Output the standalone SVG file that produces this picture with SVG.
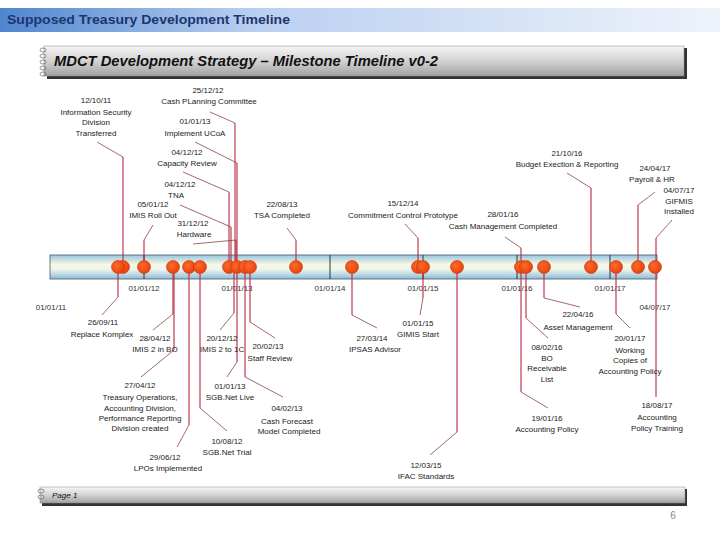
<svg xmlns="http://www.w3.org/2000/svg" width="720" height="540" viewBox="0 0 720 540">
<defs>
<linearGradient id="hdr" x1="0" y1="0" x2="1" y2="0">
<stop offset="0" stop-color="#4f86cf"/><stop offset="0.35" stop-color="#b9cff0"/><stop offset="1" stop-color="#eef3fb"/>
</linearGradient>
<linearGradient id="bar3d" x1="0" y1="0" x2="0" y2="1">
<stop offset="0" stop-color="#f6f6f6"/><stop offset="0.5" stop-color="#d2d2d2"/><stop offset="1" stop-color="#a2a2a2"/>
</linearGradient>
<linearGradient id="tl" x1="0" y1="0" x2="0" y2="1">
<stop offset="0" stop-color="#98c6e0"/><stop offset="0.4" stop-color="#f8f8e4"/><stop offset="0.6" stop-color="#eef5ec"/><stop offset="1" stop-color="#8cbdda"/>
</linearGradient>
<radialGradient id="dotg" cx="0.4" cy="0.4" r="0.7">
<stop offset="0" stop-color="#ff6a2a"/><stop offset="1" stop-color="#e23c08"/>
</radialGradient>
</defs>
<style>
.t{font-family:"Liberation Sans",Arial,sans-serif;font-size:8px;fill:#222;text-anchor:middle}
.ax{font-family:"Liberation Sans",Arial,sans-serif;font-size:8px;fill:#333;text-anchor:middle}
.dot{fill:url(#dotg);stroke:#c83206;stroke-width:0.6}
.v{stroke:#b8283e;stroke-width:1.1;fill:none}
.d{stroke:#7a2a30;stroke-width:0.7;fill:none}
.ring{fill:none;stroke:#777;stroke-width:0.8}
</style>
<rect width="720" height="540" fill="#fff"/>
<g id="header">
<rect x="0" y="8" width="720" height="24" fill="url(#hdr)"/>
<text x="7" y="24" font-family="Liberation Sans,Arial,sans-serif" font-size="13" font-weight="bold" fill="#1f3570" textLength="283" lengthAdjust="spacingAndGlyphs">Supposed Treasury Development Timeline</text>
</g>
<g id="titlebar">
<rect x="47" y="48" width="640" height="31" fill="#333"/>
<rect x="44" y="46" width="640" height="30" fill="url(#bar3d)" stroke="#888" stroke-width="0.5"/>
<ellipse class="ring" cx="43" cy="50" rx="3" ry="2"/><ellipse class="ring" cx="43" cy="56" rx="3" ry="2"/><ellipse class="ring" cx="43" cy="62" rx="3" ry="2"/><ellipse class="ring" cx="43" cy="68" rx="3" ry="2"/><ellipse class="ring" cx="43" cy="74" rx="3" ry="2"/>
<text x="54" y="66" font-family="Liberation Sans,Arial,sans-serif" font-size="15" font-weight="bold" font-style="italic" fill="#111" textLength="384" lengthAdjust="spacingAndGlyphs">MDCT Development Strategy – Milestone Timeline v0-2</text>
</g>
<g id="footer">
<rect x="42" y="489" width="645" height="17" fill="#333"/>
<rect x="40" y="487" width="645" height="16" fill="url(#bar3d)" stroke="#888" stroke-width="0.5"/>
<ellipse class="ring" cx="41" cy="491" rx="3" ry="2"/><ellipse class="ring" cx="41" cy="497" rx="3" ry="2"/>
<text x="52" y="498" font-family="Liberation Sans,Arial,sans-serif" font-size="8" font-style="italic" fill="#111">Page 1</text>
<text x="673" y="519" font-family="Liberation Sans,Arial,sans-serif" font-size="10" fill="#888" text-anchor="middle">6</text>
</g>
<g id="timeline">
<rect x="50" y="255" width="607" height="24" fill="url(#tl)" stroke="#4a5866" stroke-width="0.8"/>
<g stroke="#2a3440" stroke-width="1">
<line x1="144" y1="255" x2="144" y2="279"/><line x1="330" y1="255" x2="330" y2="279"/><line x1="423" y1="255" x2="423" y2="279"/><line x1="517" y1="255" x2="517" y2="279"/><line x1="610" y1="255" x2="610" y2="279"/>
</g>
<text class="ax" x="144" y="291">01/01/12</text><text class="ax" x="237" y="291">01/01/13</text><text class="ax" x="330" y="291">01/01/14</text><text class="ax" x="423" y="291">01/01/15</text><text class="ax" x="517" y="291">01/01/16</text><text class="ax" x="610" y="291">01/01/17</text>
<text class="ax" x="51" y="310">01/01/11</text><text class="ax" x="655" y="310">04/07/17</text>
</g>
<g id="connectors">
<path class="v" d="M123 267V157"/><path class="d" d="M123 157L97 142"/>
<path class="v" d="M144 267V240"/><path class="d" d="M144 240L153 225"/>
<path class="v" d="M235 267V123"/><path class="d" d="M235 123L210 112"/>
<path class="v" d="M237 267V163"/><path class="d" d="M237 163L195 142"/>
<path class="v" d="M229 267V192"/><path class="d" d="M229 192L183 172"/>
<path class="v" d="M231 267V227"/><path class="d" d="M231 227L180 205"/>
<path class="v" d="M236 267V240"/><path class="d" d="M236 240L193 244"/>
<path class="v" d="M296 267V240"/><path class="d" d="M296 240L287 228"/>
<path class="v" d="M418 267V238"/><path class="d" d="M418 238L405 224"/>
<path class="v" d="M521 267V248"/><path class="d" d="M521 248L505 237"/>
<path class="v" d="M591 267V188"/><path class="d" d="M591 188L567 173"/>
<path class="v" d="M638 267V205"/><path class="d" d="M638 205L655 192"/>
<path class="v" d="M656 267V238"/><path class="d" d="M656 238L672 220"/>
<path class="v" d="M118 267V297"/><path class="d" d="M118 297L102 315"/>
<path class="v" d="M173 267V314"/><path class="d" d="M173 314L153 330"/>
<path class="v" d="M174 267V350"/><path class="d" d="M174 350L141 377"/>
<path class="v" d="M189 267V425"/><path class="d" d="M189 425L177 447"/>
<path class="v" d="M200 267V408"/><path class="d" d="M200 408L227 431"/>
<path class="v" d="M234 267V313"/><path class="d" d="M234 313L220 330"/>
<path class="v" d="M237 267V362"/><path class="d" d="M237 362L227 377"/>
<path class="v" d="M245 267V377"/><path class="d" d="M245 377L283 397"/>
<path class="v" d="M250 267V322"/><path class="d" d="M250 322L275 338"/>
<path class="v" d="M352 267V315"/><path class="d" d="M352 315L377 328"/>
<path class="v" d="M423 267V298"/><path class="d" d="M423 298L420 315"/>
<path class="v" d="M457 267V432"/><path class="d" d="M457 432L430 455"/>
<path class="v" d="M526 267V318"/><path class="d" d="M526 318L548 338"/>
<path class="v" d="M521 267V392"/><path class="d" d="M521 392L548 408"/>
<path class="v" d="M544 267V298"/><path class="d" d="M544 298L580 307"/>
<path class="v" d="M616 267V314"/><path class="d" d="M616 314L630 328"/>
<path class="v" d="M656 267V397"/>
</g>
<g id="n-121011"><circle class="dot" cx="123" cy="267" r="6.5"/><text class="t" x="96" y="103">12/10/11</text><text class="t" x="96" y="115">Information Security</text><text class="t" x="96" y="125">Division</text><text class="t" x="96" y="136">Transferred</text></g>
<g id="n-260911"><circle class="dot" cx="118" cy="267" r="6.5"/><text class="t" x="103" y="325">26/09/11</text><text class="t" x="102" y="337">Replace Komplex</text></g>
<g id="n-050112"><circle class="dot" cx="144" cy="267" r="6.5"/><text class="t" x="153" y="207">05/01/12</text><text class="t" x="153" y="218">IMIS Roll Out</text></g>
<g id="n-280412"><circle class="dot" cx="173" cy="267" r="6.5"/><text class="t" x="155" y="341">28/04/12</text><text class="t" x="155" y="352">IMIS 2 in BO</text></g>
<g id="n-270412"><text class="t" x="140" y="388">27/04/12</text><text class="t" x="140" y="400">Treasury Operations,</text><text class="t" x="140" y="411">Accounting Division,</text><text class="t" x="140" y="421">Performance Reporting</text><text class="t" x="140" y="431">Division created</text></g>
<g id="n-290612"><circle class="dot" cx="189" cy="267" r="6.5"/><text class="t" x="165" y="460">29/06/12</text><text class="t" x="168" y="471">LPOs Implemented</text></g>
<g id="n-100812"><circle class="dot" cx="200" cy="267" r="6.5"/><text class="t" x="227" y="444">10/08/12</text><text class="t" x="227" y="455">SGB.Net Trial</text></g>
<g id="n-041212a"><circle class="dot" cx="229" cy="267" r="6.5"/><text class="t" x="187" y="155">04/12/12</text><text class="t" x="187" y="166">Capacity Review</text></g>
<g id="n-041212b"><text class="t" x="180" y="187">04/12/12</text><text class="t" x="176" y="198">TNA</text></g>
<g id="n-251212"><text class="t" x="208" y="93">25/12/12</text><text class="t" x="209" y="104">Cash PLanning Committee</text></g>
<g id="n-311212"><text class="t" x="193" y="226">31/12/12</text><text class="t" x="194" y="237">Hardware</text></g>
<g id="n-201212"><text class="t" x="222" y="341">20/12/12</text><text class="t" x="222" y="352">IMIS 2 to 1C</text></g>
<g id="n-010113a"><circle class="dot" cx="237" cy="267" r="6.5"/><text class="t" x="195" y="124">01/01/13</text><text class="t" x="195" y="136">Implement UCoA</text></g>
<g id="n-010113b"><text class="t" x="230" y="389">01/01/13</text><text class="t" x="230" y="400">SGB.Net Live</text></g>
<g id="n-040213"><circle class="dot" cx="245" cy="267" r="6.5"/><text class="t" x="287" y="411">04/02/13</text><text class="t" x="287" y="424">Cash Forecast</text><text class="t" x="289" y="434">Model Completed</text></g>
<g id="n-200213"><circle class="dot" cx="250" cy="267" r="6.5"/><text class="t" x="268" y="349">20/02/13</text><text class="t" x="270" y="361">Staff Review</text></g>
<g id="n-220813"><circle class="dot" cx="296" cy="267" r="6.5"/><text class="t" x="282" y="207">22/08/13</text><text class="t" x="282" y="218">TSA Completed</text></g>
<g id="n-270314"><circle class="dot" cx="352" cy="267" r="6.5"/><text class="t" x="372" y="341">27/03/14</text><text class="t" x="375" y="352">IPSAS Advisor</text></g>
<g id="n-151214"><circle class="dot" cx="418" cy="267" r="6.5"/><text class="t" x="403" y="206">15/12/14</text><text class="t" x="403" y="218">Commitment Control Prototype</text></g>
<g id="n-010115"><circle class="dot" cx="423" cy="267" r="6.5"/><text class="t" x="418" y="326">01/01/15</text><text class="t" x="418" y="337">GIMIS Start</text></g>
<g id="n-120315"><circle class="dot" cx="457" cy="267" r="6.5"/><text class="t" x="426" y="468">12/03/15</text><text class="t" x="426" y="479">IFAC Standards</text></g>
<g id="n-280116"><circle class="dot" cx="521" cy="267" r="6.5"/><text class="t" x="503" y="217">28/01/16</text><text class="t" x="503" y="229">Cash Management Completed</text></g>
<g id="n-190116"><text class="t" x="547" y="421">19/01/16</text><text class="t" x="547" y="432">Accounting Policy</text></g>
<g id="n-080216"><circle class="dot" cx="526" cy="267" r="6.5"/><text class="t" x="547" y="350">08/02/16</text><text class="t" x="547" y="361">BO</text><text class="t" x="547" y="371">Receivable</text><text class="t" x="547" y="382">List</text></g>
<g id="n-220416"><circle class="dot" cx="544" cy="267" r="6.5"/><text class="t" x="578" y="317">22/04/16</text><text class="t" x="578" y="330">Asset Management</text></g>
<g id="n-211016"><circle class="dot" cx="591" cy="267" r="6.5"/><text class="t" x="567" y="156">21/10/16</text><text class="t" x="567" y="167">Budget Exection &amp; Reporting</text></g>
<g id="n-200117"><circle class="dot" cx="616" cy="267" r="6.5"/><text class="t" x="630" y="341">20/01/17</text><text class="t" x="630" y="353">Working</text><text class="t" x="630" y="363">Copies of</text><text class="t" x="630" y="374">Accounting Policy</text></g>
<g id="n-240417"><circle class="dot" cx="638" cy="267" r="6.5"/><text class="t" x="655" y="171">24/04/17</text><text class="t" x="652" y="182">Payroll &amp; HR</text></g>
<g id="n-040717"><circle class="dot" cx="655" cy="267" r="6.5"/><text class="t" x="679" y="193">04/07/17</text><text class="t" x="679" y="204">GIFMIS</text><text class="t" x="679" y="214">Installed</text></g>
<g id="n-180817"><text class="t" x="657" y="408">18/08/17</text><text class="t" x="657" y="420">Accounting</text><text class="t" x="657" y="431">Policy Training</text></g>
</svg>
